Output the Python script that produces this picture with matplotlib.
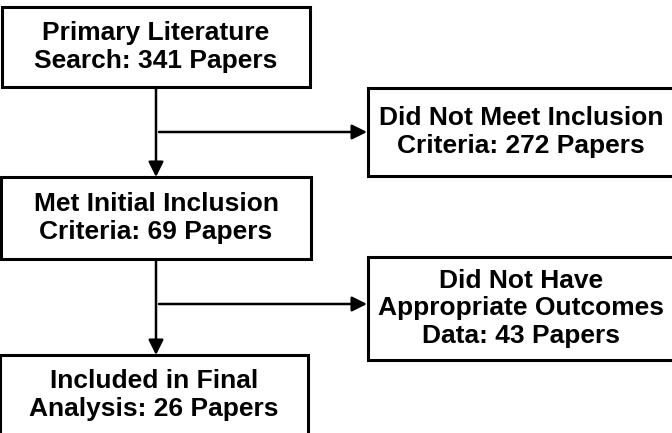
import matplotlib
matplotlib.use("Agg")
import matplotlib.pyplot as plt
from matplotlib.patches import Rectangle

# ---- data ----
stage_labels = ["Primary Literature\nSearch", "Met Initial Inclusion\nCriteria", "Included in Final\nAnalysis"]
stage_counts = [341, 69, 26]
excluded_labels = ["Did Not Meet Inclusion\nCriteria", "Did Not Have\nAppropriate Outcomes\nData"]
excluded_counts = [272, 43]

# ---- layout (pixels, y downward) ----
W, H = 672, 433
main_boxes = [(2, 7, 310, 87), (1, 177, 311, 259), (0, 355, 308, 440)]
side_boxes = [(368, 88, 674, 176), (368, 257, 674, 360)]
spine_x = 156
branch_y = [132, 304]

fig = plt.figure(figsize=(W / 100, H / 100), dpi=100)
ax = fig.add_axes([0, 0, 1, 1])
ax.set_xlim(0, W)
ax.set_ylim(H, 0)
ax.axis("off")

font = dict(family=["Liberation Sans", "DejaVu Sans"], fontweight="bold", fontsize=19,
            color="black", ha="center", va="center", linespacing=1.17)

def box(b, text):
    x0, y0, x1, y1 = b
    ax.add_patch(Rectangle((x0, y0), x1 - x0, y1 - y0, fill=True, facecolor="white",
                           edgecolor="black", linewidth=2.2, zorder=2))
    cy = (y0 + min(y1, H + 2)) / 2
    ax.text((x0 + x1) / 2, cy, text, zorder=3, **font)

def arrow(p0, p1):
    ax.annotate("", xy=p1, xytext=p0,
                arrowprops=dict(arrowstyle="-|>,head_length=0.9,head_width=0.45",
                                color="black", lw=1.8, shrinkA=0, shrinkB=0), zorder=1)

for b, lab, n in zip(main_boxes, stage_labels, stage_counts):
    box(b, f"{lab}: {n} Papers")
for b, lab, n in zip(side_boxes, excluded_labels, excluded_counts):
    box(b, f"{lab}: {n} Papers")

for i in range(2):
    arrow((spine_x, main_boxes[i][3]), (spine_x, main_boxes[i + 1][1]))
    arrow((spine_x + 3, branch_y[i]), (side_boxes[i][0] - 1, branch_y[i]))

fig.savefig("out.png", dpi=100)
